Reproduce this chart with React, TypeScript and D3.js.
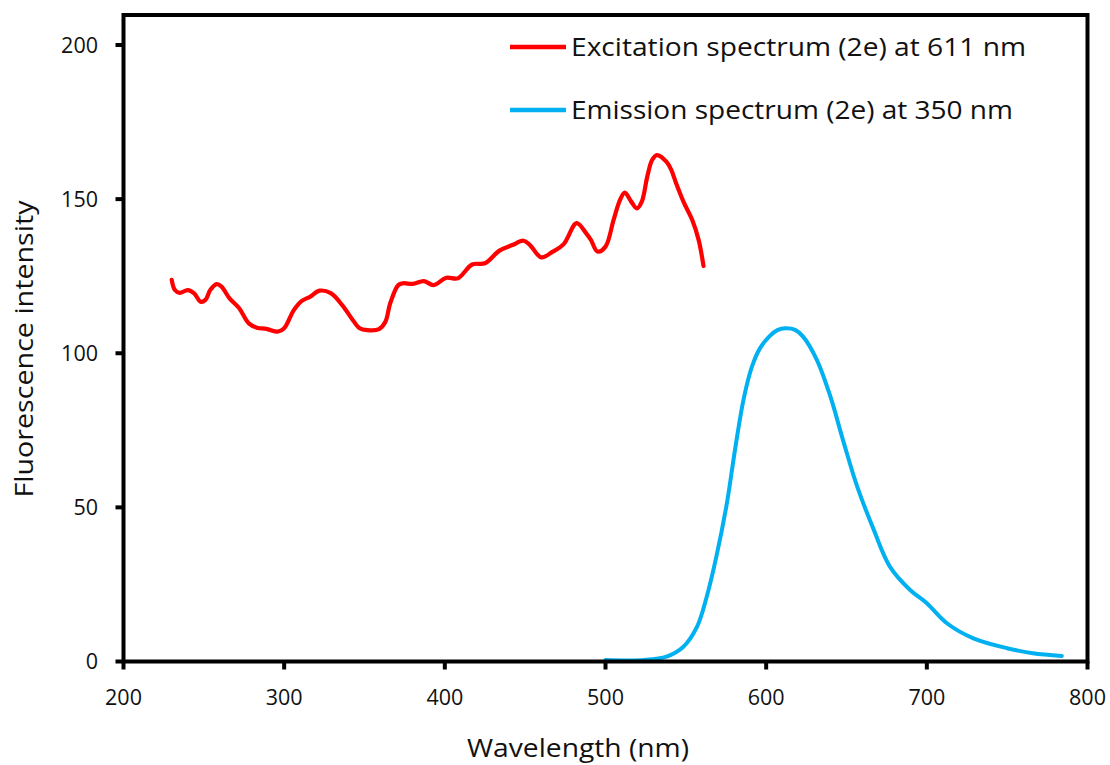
import React from "react";
import * as d3 from "d3";

const xTicks = [200, 300, 400, 500, 600, 700, 800];
const yTicks = [0, 50, 100, 150, 200];

const excitationWavelength = [
  230, 232, 235, 240, 244, 248, 251, 254, 258, 261, 266, 272, 278, 283, 289, 296, 300,
  306, 311, 316, 322, 329, 336, 342, 347, 352, 359, 363, 366, 371, 374, 380, 387, 393,
  401, 408, 417, 425, 434, 442, 449, 453, 460, 467, 474, 482, 488, 491, 495, 500, 505,
  509, 512, 516, 519.5, 522.6, 526, 529, 532, 538, 541, 544, 548.5, 554, 558, 561,
];
const excitationIntensity = [
  123.8, 120.5, 119.6, 120.5, 119.4, 116.7, 117.3, 120.5, 122.4, 121.6, 117.8, 114.6,
  109.7, 108.3, 107.9, 107.0, 108.1, 114, 117, 118.3, 120.3, 119.5, 115.7, 111.3, 108.1,
  107.5, 107.8, 110.2, 116.2, 122.1, 122.7, 122.5, 123.4, 122.1, 124.5, 124.3, 128.8,
  129.2, 133.3, 135.1, 136.5, 135.1, 131.1, 132.9, 135.4, 142.2, 138.9, 136.7, 133,
  134.6, 143.2, 149.7, 152.1, 149.2, 147, 149.2, 157.3, 162.7, 164.3, 162.1, 159.4,
  155.1, 149.2, 143.2, 136.7, 128.3,
];

const emissionWavelength = [
  500, 524, 538, 548.5, 557, 563, 569, 575.6, 580.7, 586, 591, 596, 602, 607, 612, 618,
  623, 631.6, 640, 648, 656.5, 667, 677, 689.6, 700, 712.5, 729, 750, 766, 784,
];
const emissionIntensity = [
  0.5, 0.5, 1.6, 4.8, 11.3, 21, 34, 51.5, 69, 85.2, 95.4, 101.5, 105.5, 107.5, 108.1,
  107.6, 105.4, 97.8, 85.9, 71.5, 57, 42.7, 30.8, 23.2, 18.9, 12.4, 7.5, 4.3, 2.7, 1.8,
];

const legendLabels = [
  "Excitation spectrum (2e) at 611 nm",
  "Emission spectrum (2e) at 350 nm",
];
const seriesColors = ["#FF0000", "#00B0F0"];

const W = 1110;
const H = 765;
const FONT = "'Open Sans', 'DejaVu Sans', sans-serif";

export default function App() {
  const x = d3.scaleLinear().domain([200, 800]).range([123.5, 1087.5]);
  const y = d3.scaleLinear().domain([0, 200]).range([661.5, 45]);
  const frameTop = 15;

  const excitation = excitationWavelength.map((w, i) => [w, excitationIntensity[i]] as [number, number]);
  const emission = emissionWavelength.map((w, i) => [w, emissionIntensity[i]] as [number, number]);

  const lineEx = d3
    .line<[number, number]>()
    .x((d) => x(d[0]))
    .y((d) => y(d[1]))
    .curve(d3.curveCatmullRom.alpha(0.5));
  const lineEm = d3
    .line<[number, number]>()
    .x((d) => x(d[0]))
    .y((d) => y(d[1]))
    .curve(d3.curveCatmullRom.alpha(0.5));

  const [x0, x1] = x.range();
  const y0 = y(0);

  return (
    <svg
      width={W}
      height={H}
      viewBox={`0 0 ${W} ${H}`}
      style={{ position: "absolute", left: 0, top: 0, background: "#fff" }}
    >
      <rect x={0} y={0} width={W} height={H} fill="#fff" />
      {/* data */}
      <path d={lineEx(excitation) || ""} fill="none" stroke={seriesColors[0]} strokeWidth={4.2} strokeLinejoin="round" strokeLinecap="round" />
      <path d={lineEm(emission) || ""} fill="none" stroke={seriesColors[1]} strokeWidth={4} strokeLinejoin="round" strokeLinecap="round" />

      {/* frame */}
      <rect x={x0} y={frameTop} width={x1 - x0} height={y0 - frameTop} fill="none" stroke="#000" strokeWidth={4} />

      {/* y ticks */}
      {yTicks.map((t) => (
        <g key={"y" + t}>
          <line x1={x0 - 8} x2={x0} y1={y(t)} y2={y(t)} stroke="#000" strokeWidth={4} />
          <text x={98} y={y(t)} dy="0.36em" textAnchor="end" fontFamily={FONT} fontSize={21.5} fill="#111">
            {t}
          </text>
        </g>
      ))}
      {/* x ticks */}
      {xTicks.map((t) => (
        <g key={"x" + t}>
          <line x1={x(t)} x2={x(t)} y1={y0} y2={y0 + 8} stroke="#000" strokeWidth={4} />
          <text x={x(t)} y={705} textAnchor="middle" fontFamily={FONT} fontSize={21.5} fill="#111">
            {t}
          </text>
        </g>
      ))}

      {/* axis titles */}
      <text x={578} y={757} textAnchor="middle" fontFamily={FONT} fontSize={25} fill="#111" textLength={222} lengthAdjust="spacingAndGlyphs">
        Wavelength (nm)
      </text>
      <text
        transform={`translate(33,349) rotate(-90)`}
        textAnchor="middle"
        fontFamily={FONT}
        fontSize={25}
        fill="#111"
        textLength={297}
        lengthAdjust="spacingAndGlyphs"
      >
        Fluorescence intensity
      </text>

      {/* legend */}
      {legendLabels.map((lab, i) => {
        const ly = 47 + i * 63;
        return (
          <g key={lab}>
            <line x1={510} x2={566} y1={ly} y2={ly} stroke={seriesColors[i]} strokeWidth={4.5} />
            <text x={571} y={ly} dy="0.35em" fontFamily={FONT} fontSize={25} fill="#111" textLength={i === 0 ? 455 : 442} lengthAdjust="spacingAndGlyphs">
              {lab}
            </text>
          </g>
        );
      })}
    </svg>
  );
}
